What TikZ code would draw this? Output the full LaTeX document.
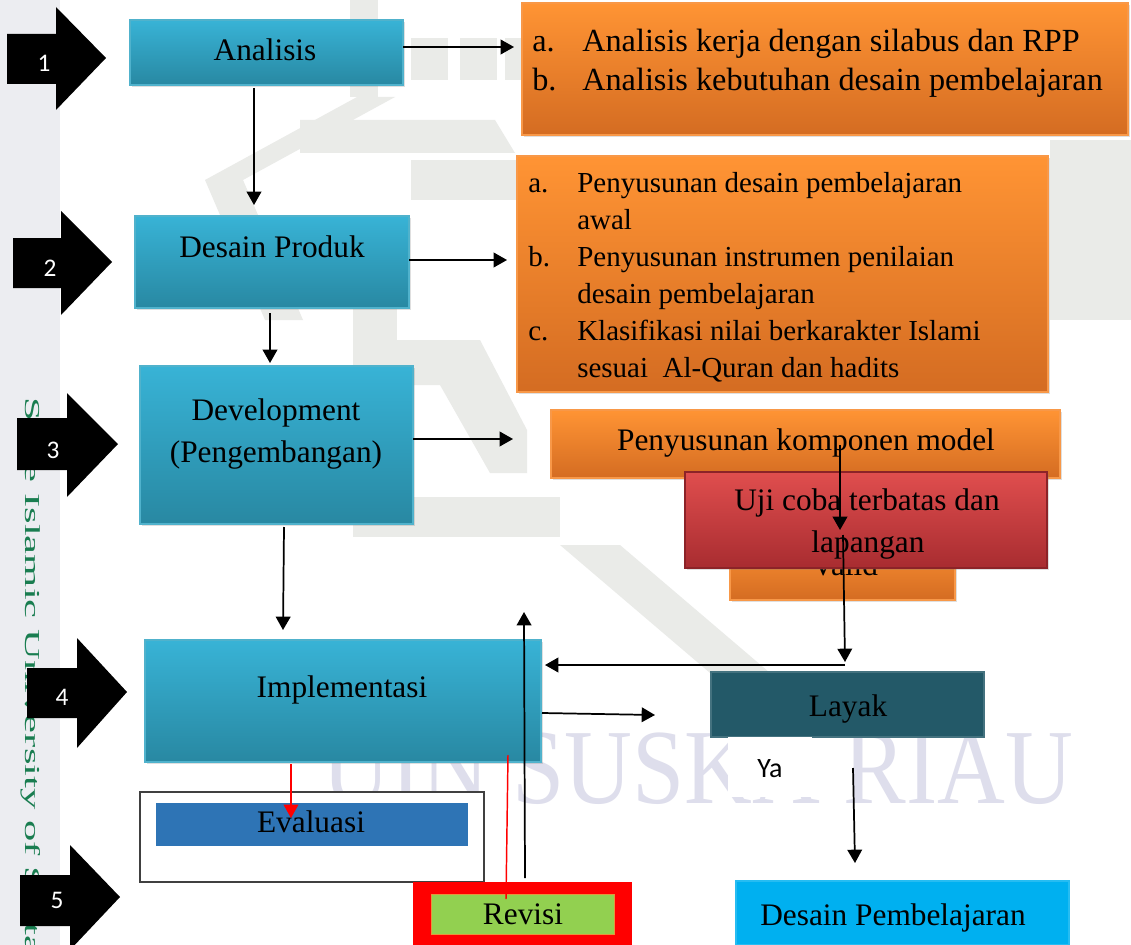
\documentclass[tikz,border=0pt]{standalone}
\usepackage{fontspec}
\setmainfont{Liberation Serif}
\newfontfamily\sansf{Carlito}
\usepackage{graphicx}
\usetikzlibrary{arrows.meta,fit,shadows}
\definecolor{blueT}{RGB}{56,179,214}
\definecolor{blueB}{RGB}{40,136,162}
\definecolor{blueD}{RGB}{80,178,204}
\definecolor{orT}{RGB}{255,148,52}
\definecolor{orB}{RGB}{212,108,34}
\definecolor{orD}{RGB}{248,152,72}
\definecolor{redT}{RGB}{224,78,78}
\definecolor{redB}{RGB}{168,44,48}
\definecolor{redD}{RGB}{140,35,40}
\definecolor{layakC}{RGB}{35,89,104}
\definecolor{dpC}{RGB}{0,176,240}
\definecolor{evC}{RGB}{46,116,181}
\definecolor{rvG}{RGB}{146,208,80}
\definecolor{rvD}{RGB}{230,150,60}
\definecolor{wmC}{RGB}{234,235,232}
\definecolor{wmT}{RGB}{222,222,236}
\definecolor{stripC}{RGB}{236,237,241}
\definecolor{vgC}{RGB}{25,125,80}
\tikzset{
  box/.style={rectangle, inner sep=0pt, outer sep=0pt},
  shad/.style={drop shadow={opacity=0.25, shadow xshift=1.5pt, shadow yshift=-1.5pt}},
  bluebox/.style={box, shad, top color=blueT, bottom color=blueB, draw=blueD, line width=0.8pt},
  orbox/.style={box, shad, top color=orT, bottom color=orB, draw=orD, line width=0.8pt},
  redbox/.style={box, shad, top color=redT, bottom color=redB, draw=redD, line width=0.8pt},
  lbl/.style={inner sep=0pt, anchor=base, font=\fontsize{23.5}{28}\selectfont},
  lstA/.style={inner sep=0pt, anchor=base west, font=\fontsize{24.2}{28}\selectfont},
  lstB/.style={inner sep=0pt, anchor=base west, font=\fontsize{21.75}{26}\selectfont},
  arr/.style={line width=1.3pt, -{Triangle[length=10pt,width=11pt]}},
  redarr/.style={red, line width=1.1pt, -{Triangle[length=10pt,width=11pt]}},
  redline/.style={red, line width=1.1pt},
  num/.style={text=white, font=\sansf\fontsize{19}{19}\selectfont, inner sep=0pt},
  blk/.style={fill=black},
}
\begin{document}
\begin{tikzpicture}[x=0.75pt,y=-0.75pt]
\useasboundingbox (0,0) rectangle (1131,945);
\fill[white] (0,0) rectangle (1131,945);
\fill[stripC] (0,0) rectangle (60,945);
% vertical watermark text
\begin{scope}
\clip (0,0) rectangle (1131,945);
\node[anchor=base west, rotate=-90, inner sep=0pt, text=vgC, font=\fontsize{16}{16}\selectfont] (vtext) at (26,397) {\scalebox{2.0}[1]{State Islamic University of Sultan Syarif Kasim Riau}};
\end{scope}
% watermark logo (approximate)
\fill[wmC] (350,0) rectangle (378,97);
\fill[wmC] (411,38) rectangle (448,80);
\fill[wmC] (460,38) rectangle (497,80);
\fill[wmC] (505,38) rectangle (521,80);
\fill[wmC] (357,97) -- (205,180) -- (265,320) -- (303,320) -- (243,180) -- (395,97) -- cycle;
\fill[wmC] (300,120) -- (495,120) -- (515,153) -- (300,153) -- cycle;
\fill[wmC] (411,160) rectangle (517,200);
\fill[wmC] (353,300) rectangle (397,533);
\fill[wmC] (353,497) rectangle (560,537);
\fill[wmC] (397,340) -- (480,340) -- (527,430) -- (527,473) -- (490,473) -- (440,385) -- (397,385) -- cycle;
\fill[wmC] (560,545) -- (620,545) -- (790,690) -- (730,690) -- cycle;
\fill[wmC] (1050,140) rectangle (1131,320);
\node[anchor=base, inner sep=0pt, text=wmT, font=\fontsize{80}{80}\selectfont] (wmtext) at (698,803) {\scalebox{0.88}[1]{UIN SUSKA RIAU}};

% orange boxes
\node[orbox, fit={(522,3) (1128,135)}] (box1) {};
\node[lstA] (b1a) at (532,52) {a.};
\node[lstA] (b1at) at (582,52) {Analisis kerja dengan silabus dan RPP};
\node[lstA] (b1b) at (532,91) {b.};
\node[lstA] (b1bt) at (582,91) {Analisis kebutuhan desain pembelajaran};

\node[orbox, fit={(517,156) (1048,392)}] (box2) {};
\node[lstB] (b2a) at (528,192) {a.};
\node[lstB] (b2at) at (577,192) {Penyusunan desain pembelajaran};
\node[lstB] (b2a2) at (577,229) {awal};
\node[lstB] (b2b) at (528,266) {b.};
\node[lstB] (b2bt) at (577,266) {Penyusunan instrumen penilaian};
\node[lstB] (b2b2) at (577,303) {desain pembelajaran};
\node[lstB] (b2c) at (528,340) {c.};
\node[lstB] (b2ct) at (577,340) {Klasifikasi nilai berkarakter Islami};
\node[lstB] (b2c2) at (577,377) {sesuai\ \ Al-Quran dan hadits};

\node[orbox, fit={(551,410) (1060,478)}] (box3) {};
\node[lbl] (t3) at (806,450) {Penyusunan komponen model};

\node[orbox, fit={(730,535) (955,600)}] (valid) {};
\node[lbl] (tvalid) at (845,575) {Valid};

\node[redbox, fit={(685,472) (1047,568)}] (uji) {};
\node[lbl] (tuji1) at (867,510) {Uji coba terbatas dan};
\node[lbl] (tuji2) at (868,552) {lapangan};

% blue boxes
\node[bluebox, fit={(130,20) (403,85)}] (analisis) {};
\node[lbl] (tan) at (265,61) {Analisis};
\node[bluebox, fit={(135,216) (409,308)}] (desain) {};
\node[lbl] (tde) at (272,257) {Desain Produk};
\node[bluebox, fit={(140,366) (413,524)}] (devel) {};
\node[lbl] (tdv1) at (276,420) {Development};
\node[lbl] (tdv2) at (276,462) {(Pengembangan)};
\node[bluebox, fit={(145,640) (541,762)}] (impl) {};
\node[lbl] (tim) at (342,697) {Implementasi};

% right column
\node[box, fill=layakC, draw=layakC!85!white, line width=0.8pt, fit={(711,672) (984,737)}] (layak) {};
\node[lbl, text=black] (tla) at (848,716) {Layak};
\node[box, fill=white, fit={(728,737) (812,797)}] (yabox) {};
\node[inner sep=0pt, anchor=base, font=\sansf\fontsize{21}{21}\selectfont] (tya) at (770,777) {Ya};
\node[box, fill=dpC, draw=dpC!85!white, line width=0.8pt, fit={(736,881) (1069,945)}] (dp) {};
\node[lbl] (tdp) at (893,925) {Desain Pembelajaran};

% evaluasi
\node[box, fill=white, draw=black!75, line width=0.9pt, fit={(140,792) (484,882)}] (evout) {};
\node[box, fill=evC, fit={(156,803) (468,846)}] (evin) {};
\node[lbl] (tev) at (311,832) {Evaluasi};

% revisi
\node[box, fill=red, fit={(413,882) (632,945)}] (rvout) {};
\node[box, fill=rvG, draw=rvD, line width=0.6pt, fit={(431,894) (614,934)}] (rvin) {};
\node[lbl] (trv) at (523,924) {Revisi};

% connectors
\coordinate (e1) at (514,47);
\draw[arr] (analisis.east |- e1) -- (e1);
\coordinate (s2) at (254,88); \coordinate (e2) at (254,205);
\draw[arr] (s2) -- (e2);
\coordinate (e3) at (507,260);
\draw[arr] (desain.east |- e3) -- (e3);
\coordinate (s4) at (270,313); \coordinate (e4) at (270,363);
\draw[arr] (s4) -- (e4);
\coordinate (e5) at (513,439);
\draw[arr] (devel.east |- e5) -- (e5);
\coordinate (s6) at (284,527); \coordinate (e6) at (283,630);
\draw[arr] (s6) -- (e6);
\coordinate (s7) at (525,878); \coordinate (e7) at (524,612);
\draw[arr] (s7) -- (e7);
\coordinate (s8) at (542,713); \coordinate (e8) at (655,715);
\draw[arr] (s8) -- (e8);
\coordinate (s9) at (291,764); \coordinate (e9) at (291,818);
\draw[redarr] (s9) -- (e9);
\coordinate (s10) at (508,755); \coordinate (e10) at (506,899);
\draw[redline] (s10) -- (e10);
\coordinate (s11) at (840,445); \coordinate (e11) at (840,530);
\draw[arr] (s11) -- (e11);
\coordinate (s12) at (843,535); \coordinate (e12) at (845,662);
\draw[arr] (s12) -- (e12);
\coordinate (s13) at (845,665); \coordinate (e13) at (545,665);
\draw[arr] (s13) -- (e13);
\coordinate (s14) at (853,768); \coordinate (e14) at (855,863);
\draw[arr] (s14) -- (e14);

% numbered block arrows
\fill[blk] (7,34) -- (56,34) -- (56,7) -- (106,58) -- (56,110) -- (56,84) -- (7,84) -- cycle;
\node[num] (n1) at (44,63) {1};
\fill[blk] (13,238) -- (61,238) -- (61,211) -- (112,262) -- (61,315) -- (61,288) -- (13,288) -- cycle;
\node[num] (n2) at (50,268) {2};
\fill[blk] (17,418) -- (67,418) -- (67,393) -- (118,444) -- (67,497) -- (67,470) -- (17,470) -- cycle;
\node[num] (n3) at (53,450) {3};
\fill[blk] (27,668) -- (77,668) -- (77,638) -- (127,692) -- (77,748) -- (77,718) -- (27,718) -- cycle;
\node[num] (n4) at (62,697) {4};
\fill[blk] (20,875) -- (70,875) -- (70,845) -- (120,897) -- (70,950) -- (70,926) -- (20,926) -- cycle;
\node[num] (n5) at (57,900) {5};
\end{tikzpicture}
\end{document}
